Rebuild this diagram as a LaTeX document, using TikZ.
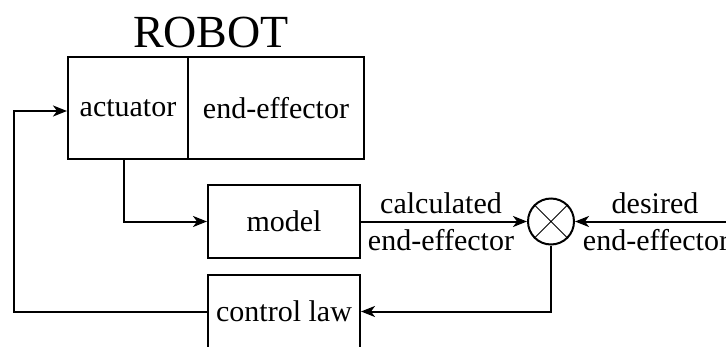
\documentclass[tikz,border=0pt]{standalone}
\usepackage{fontspec}
\setmainfont{Liberation Serif}
\usetikzlibrary{arrows.meta,calc}
\begin{document}
\begin{tikzpicture}[x=1pt,y=-1pt,
  line width=2pt,
  font=\fontsize{30}{36}\selectfont,
  block/.style={draw,rectangle,inner sep=0pt},
  lbl/.style={inner sep=0pt,anchor=base},
  sig/.style={-{Stealth[length=14pt,width=11pt,inset=4pt]}}]
\useasboundingbox (0,0) rectangle (726,346);
% robot: actuator and end-effector side by side
\node[lbl,font=\fontsize{46}{54}\selectfont] (title) at (211,47) {ROBOT};
\node[block,minimum width=120pt,minimum height=102pt] (act) at (128,108) {actuator};
\node[block,minimum width=176pt,minimum height=102pt] (eff) at (276,108) {end-effector};
% model and control law
\node[block,minimum width=152pt,minimum height=73pt] (model) at (284,221.5) {model};
\node[block,minimum width=152pt,minimum height=73pt] (law) at (284,311.5) {control law};
% comparison junction
\node[draw,circle,minimum size=46pt,inner sep=0pt] (cmp) at (551,221.5) {};
\draw[line width=1pt] (cmp.north west) -- (cmp.south east) (cmp.north east) -- (cmp.south west);
\coordinate (ref) at (730,221.5);
\coordinate (fbk) at (14,311.5);
% signal flow
\draw[sig] (act.south -| 124,0) |- (model.west);
\draw[sig] (model.east) -- (cmp.west);
\draw[sig] (ref) -- (cmp.east);
\draw[sig] (cmp.south) |- (law.east);
\draw[sig] (law.west) -- (fbk) |- (act.west |- 0,111);
% edge labels
\node[lbl] (calc) at (441,213) {calculated};
\node[lbl] (calcb) at (441,250) {end-effector};
\node[lbl] (des) at (655,213) {desired};
\node[lbl] (desb) at (656,250) {end-effector};
\end{tikzpicture}
\end{document}
